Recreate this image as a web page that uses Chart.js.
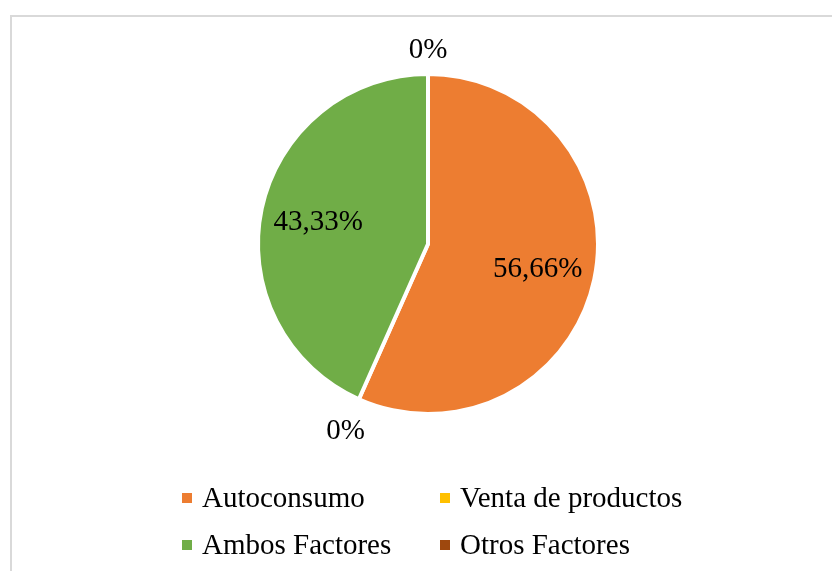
<!DOCTYPE html>
<html>
<head>
<meta charset="utf-8">
<script src="https://cdn.jsdelivr.net/npm/chart.js@4/dist/chart.umd.min.js"></script>
<style>
  html, body { margin: 0; padding: 0; background: #fff; }
  #wrap { width: 832px; height: 571px; position: relative; }
</style>
</head>
<body>
<div id="wrap"><canvas id="chart" width="832" height="571"></canvas></div>
<script>
const categories = ['Autoconsumo', 'Venta de productos', 'Ambos Factores', 'Otros Factores'];
const values = [56.66, 0, 43.33, 0];
const valueLabels = ['56,66%', '0%', '43,33%', '0%'];
const colors = ['#ED7D31', '#FFC000', '#70AD47', '#9E480E'];

const FONT = '"Liberation Serif", "Times New Roman", serif';

// frame, percent labels and a two-column legend
const piePlugin = {
  id: 'pieExtras',
  beforeDraw(chart) {
    const ctx = chart.ctx;
    ctx.save();
    ctx.strokeStyle = '#d9d9d9';
    ctx.lineWidth = 2;
    ctx.strokeRect(11, 16, 900, 700);
    ctx.restore();
  },
  afterDatasetsDraw(chart) {
    const ctx = chart.ctx;
    const meta = chart.getDatasetMeta(0);
    ctx.save();
    ctx.font = '29px ' + FONT;
    ctx.fillStyle = '#000';
    ctx.textAlign = 'center';
    ctx.textBaseline = 'middle';
    meta.data.forEach((arc, i) => {
      const p = arc.getProps(['x', 'y', 'startAngle', 'endAngle', 'outerRadius']);
      const mid = (p.startAngle + p.endAngle) / 2;
      const cx = Math.cos(mid), cy = Math.sin(mid);
      let r;
      if (values[i] === 0) {
        const w = ctx.measureText(valueLabels[i]).width;
        r = p.outerRadius + 12 + Math.abs(cx) * w / 2 + Math.abs(cy) * 14;
      } else {
        r = p.outerRadius * 0.66;
      }
      ctx.fillText(valueLabels[i], p.x + cx * r, p.y + cy * r + 2);
    });
    ctx.restore();
  },
  afterDraw(chart) {
    const ctx = chart.ctx;
    const cols = [182, 440];
    const rows = [498, 545];
    ctx.save();
    ctx.font = '29px ' + FONT;
    ctx.textBaseline = 'middle';
    ctx.textAlign = 'left';
    chart.data.labels.forEach((lab, i) => {
      const x = cols[i % 2];
      const y = rows[Math.floor(i / 2)];
      ctx.fillStyle = chart.data.datasets[0].backgroundColor[i];
      ctx.fillRect(x, y - 5, 10, 10);
      ctx.fillStyle = '#000';
      ctx.fillText(lab, x + 20, y + 1);
    });
    ctx.restore();
  }
};

new Chart(document.getElementById('chart'), {
  type: 'pie',
  data: {
    labels: categories,
    datasets: [{
      data: values,
      backgroundColor: colors,
      borderColor: '#ffffff',
      borderWidth: 4
    }]
  },
  options: {
    responsive: false,
    animation: false,
    layout: { padding: { top: 72, bottom: 155, left: 24, right: 0 } },
    plugins: {
      legend: { display: false },
      tooltip: { enabled: false }
    }
  },
  plugins: [piePlugin]
});
</script>
</body>
</html>
